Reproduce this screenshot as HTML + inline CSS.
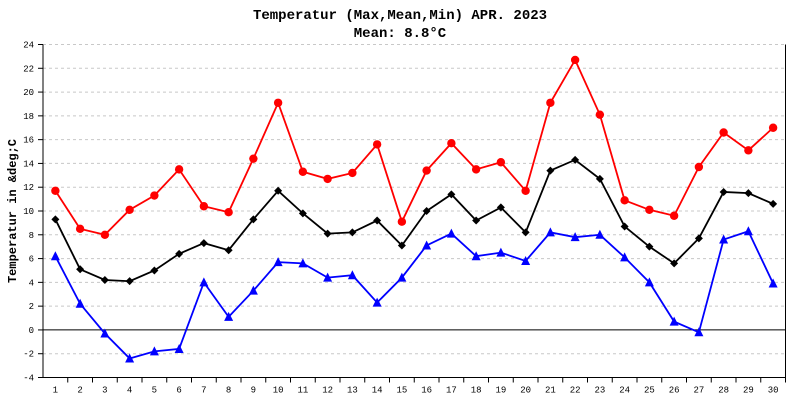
<!DOCTYPE html>
<html><head><meta charset="utf-8"><style>
body{margin:0;background:#fff}
svg text{font-family:"Liberation Mono",monospace}
</style></head><body>
<svg id="c" width="800" height="400" xmlns="http://www.w3.org/2000/svg">
<text x="400" y="19" text-anchor="middle" font-size="14" font-weight="bold">Temperatur (Max,Mean,Min) APR. 2023</text>
<text x="400" y="37" text-anchor="middle" font-size="14" font-weight="bold">Mean: 8.8°C</text>
<text transform="translate(16,211) rotate(-90)" text-anchor="middle" font-size="12" font-weight="bold">Temperatur in &amp;deg;C</text>
<g id="grid"></g><g id="axes"></g><g id="series"></g>
</svg>
<script>
const days=[1,2,3,4,5,6,7,8,9,10,11,12,13,14,15,16,17,18,19,20,21,22,23,24,25,26,27,28,29,30];
const maxT=[11.7,8.5,8.0,10.1,11.3,13.5,10.4,9.9,14.4,19.1,13.3,12.7,13.2,15.6,9.1,13.4,15.7,13.5,14.1,11.7,19.1,22.7,18.1,10.9,10.1,9.6,13.7,16.6,15.1,17.0];
const meanT=[9.3,5.1,4.2,4.1,5.0,6.4,7.3,6.7,9.3,11.7,9.8,8.1,8.2,9.2,7.1,10.0,11.4,9.2,10.3,8.2,13.4,14.3,12.7,8.7,7.0,5.6,7.7,11.6,11.5,10.6];
const minT=[6.2,2.2,-0.3,-2.4,-1.8,-1.6,4.0,1.1,3.3,5.7,5.6,4.4,4.6,2.3,4.4,7.1,8.1,6.2,6.5,5.8,8.2,7.8,8.0,6.1,4.0,0.7,-0.2,7.6,8.3,3.9];
const yTicks=[-4,-2,0,2,4,6,8,10,12,14,16,18,20,22,24];
const NS="http://www.w3.org/2000/svg";
const L=43,R=785.5,T=44.5,B=377.5,yMin=-4,yMax=24;
const cw=(R-L)/days.length;
const x=i=>L+cw*(i+0.5);
const y=v=>B-(v-yMin)/(yMax-yMin)*(B-T);
function mk(tag,attrs,parent){const e=document.createElementNS(NS,tag);for(const k in attrs)e.setAttribute(k,attrs[k]);parent.appendChild(e);return e;}
const grid=document.getElementById('grid'),axes=document.getElementById('axes'),ser=document.getElementById('series');
yTicks.forEach(t=>{
  if(t!==0&&t!==yMin){const g=mk('line',{x1:L,x2:R,y1:y(t),y2:y(t),stroke:'#c8c8c8','stroke-dasharray':'3,3'},grid);
  
  }
  const tk=mk('line',{x1:L-5,x2:L,y1:y(t),y2:y(t),stroke:'#000'},axes);
  
  
  const lb=mk('text',{x:L-9,y:y(t)+3,'text-anchor':'end','font-size':'9'},axes);
  lb.textContent=t;
  
  
});
const z=mk('line',{x1:L,x2:R,y1:y(0),y2:y(0),stroke:'#000'},axes);


const ya=mk('line',{x1:L,x2:L,y1:T,y2:B,stroke:'#000'},axes);


const ra=mk('line',{x1:R,x2:R,y1:T,y2:B,stroke:'#000'},axes);


const xa=mk('line',{x1:L,x2:R,y1:B,y2:B,stroke:'#000'},axes);


days.forEach((d,i)=>{
  const tk=mk('line',{x1:L+cw*(i+1),x2:L+cw*(i+1),y1:B,y2:B+5,stroke:'#000'},axes);
  
  
  const lb=mk('text',{x:x(i),y:B+15,'text-anchor':'middle','font-size':'9'},axes);
  lb.textContent=d;
  
  
});
function series(vals,color,shape,name){
  const g=mk('g',{},ser);
  
  
  const pl=mk('polyline',{points:vals.map((v,i)=>x(i)+','+y(v)).join(' '),fill:'none',stroke:color,'stroke-width':1.8},g);
  
  
  vals.forEach((v,i)=>{
    const cx=x(i),cy=y(v);let m;
    if(shape==='circle')m=mk('circle',{cx:cx,cy:cy,r:4.2,fill:color},g);
    else if(shape==='diamond')m=mk('polygon',{points:`${cx},${cy-4} ${cx+4},${cy} ${cx},${cy+4} ${cx-4},${cy}`,fill:color},g);
    else m=mk('polygon',{points:`${cx},${cy-5} ${cx+4.5},${cy+4} ${cx-4.5},${cy+4}`,fill:color},g);
    
    
  });
}
series(minT,'#0000ff','triangle','min-series');
series(meanT,'#000000','diamond','mean-series');
series(maxT,'#ff0000','circle','max-series');
</script>
</body></html>
